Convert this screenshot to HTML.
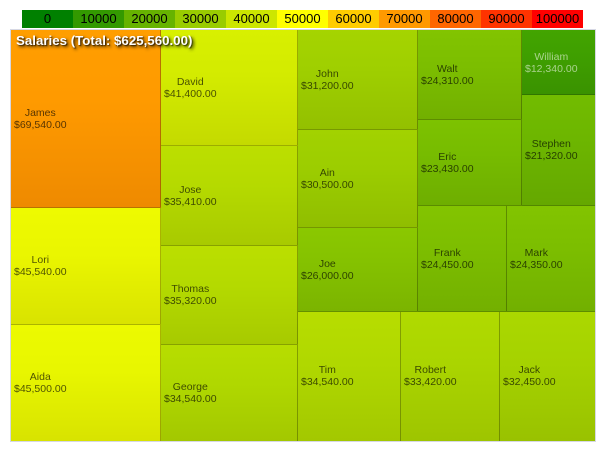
<!DOCTYPE html>
<html>
<head>
<meta charset="utf-8">
<style>
  html, body { margin:0; padding:0; background:#ffffff; }
  body { width:605px; height:451px; position:relative; overflow:hidden; font-family:"Liberation Sans", Arial, sans-serif; }
  .lg { position:absolute; top:10px; height:18px; width:51px; font-size:13px; line-height:18px; text-align:center; color:#000; }
  .chart { position:absolute; left:10px; top:29px; width:586px; height:413px; box-sizing:border-box; border:1px solid #d6d8e4; }
  .c { position:absolute; box-sizing:border-box; overflow:hidden; }
  .br { border-right:1px solid rgba(0,0,0,0.28); }
  .bb { border-bottom:1px solid rgba(0,0,0,0.28); }
  .lab { position:absolute; font-size:10.5px; line-height:12px; text-align:center; color:rgba(0,0,0,0.66); white-space:nowrap; }
  .title { position:absolute; left:16px; top:33px; font-size:13.3px; font-weight:bold; color:#fff; line-height:16px; white-space:nowrap; text-shadow:2px 2px 3px rgba(0,0,0,0.85), 1px 1px 1px rgba(0,0,0,0.6); }
</style>
</head>
<body>
<div class="lg" style="left:22px;background:#008000;">0</div>
<div class="lg" style="left:73px;background:#339900;">10000</div>
<div class="lg" style="left:124px;background:#66b300;">20000</div>
<div class="lg" style="left:175px;background:#99cc00;">30000</div>
<div class="lg" style="left:226px;background:#cce600;">40000</div>
<div class="lg" style="left:277px;background:#ffff00;">50000</div>
<div class="lg" style="left:328px;background:#ffcc00;">60000</div>
<div class="lg" style="left:379px;background:#ff9900;">70000</div>
<div class="lg" style="left:430px;background:#ff6600;">80000</div>
<div class="lg" style="left:481px;background:#ff3300;">90000</div>
<div class="lg" style="left:532px;background:#ff0000;">100000</div>

<div class="chart"></div>

<div class="c br bb" style="left:11px;top:30px;width:150px;height:178px;background:linear-gradient(to bottom,#ff9e00 0%,#ff9a00 40%,#ee8a00 100%);"></div>
<div class="c br bb" style="left:11px;top:208px;width:150px;height:117px;background:linear-gradient(to bottom,#eefa00 0%,#eaf600 40%,#d9e300 100%);"></div>
<div class="c br" style="left:11px;top:325px;width:150px;height:116px;background:linear-gradient(to bottom,#ecfa00 0%,#e8f600 40%,#d8e300 100%);"></div>

<div class="c br bb" style="left:161px;top:30px;width:137px;height:116px;background:linear-gradient(to bottom,#d8f000 0%,#d3eb00 40%,#c4da00 100%);"></div>
<div class="c br bb" style="left:161px;top:146px;width:137px;height:100px;background:linear-gradient(to bottom,#bcdf00 0%,#b5da00 40%,#a8ca00 100%);"></div>
<div class="c br bb" style="left:161px;top:246px;width:137px;height:99px;background:linear-gradient(to bottom,#bbdf00 0%,#b4da00 40%,#a7ca00 100%);"></div>
<div class="c br" style="left:161px;top:345px;width:137px;height:96px;background:linear-gradient(to bottom,#b7dd00 0%,#b0d800 40%,#a3c800 100%);"></div>

<div class="c br bb" style="left:298px;top:30px;width:120px;height:100px;background:linear-gradient(to bottom,#a5d400 0%,#9fcf00 40%,#93c000 100%);"></div>
<div class="c br bb" style="left:298px;top:130px;width:120px;height:98px;background:linear-gradient(to bottom,#a2d200 0%,#9ccd00 40%,#90be00 100%);"></div>
<div class="c br bb" style="left:298px;top:228px;width:120px;height:84px;background:linear-gradient(to bottom,#8bc800 0%,#85c200 40%,#7bb400 100%);"></div>

<div class="c br bb" style="left:418px;top:30px;width:104px;height:90px;background:linear-gradient(to bottom,#82c400 0%,#7cbe00 40%,#72b000 100%);"></div>
<div class="c br bb" style="left:418px;top:120px;width:104px;height:86px;background:linear-gradient(to bottom,#7dc200 0%,#77bc00 40%,#6eae00 100%);"></div>
<div class="c bb" style="left:522px;top:30px;width:73px;height:65px;background:linear-gradient(to bottom,#43a400 0%,#3f9f00 40%,#3a9200 100%);"></div>
<div class="c bb" style="left:522px;top:95px;width:73px;height:111px;background:linear-gradient(to bottom,#72bc00 0%,#6db600 40%,#65a800 100%);"></div>

<div class="c br bb" style="left:418px;top:206px;width:89px;height:106px;background:linear-gradient(to bottom,#83c400 0%,#7dbe00 40%,#73b000 100%);"></div>
<div class="c bb" style="left:507px;top:206px;width:88px;height:106px;background:linear-gradient(to bottom,#82c400 0%,#7cbe00 40%,#72b000 100%);"></div>

<div class="c br" style="left:298px;top:312px;width:103px;height:129px;background:linear-gradient(to bottom,#b7dd00 0%,#b0d800 40%,#a3c800 100%);"></div>
<div class="c br" style="left:401px;top:312px;width:99px;height:129px;background:linear-gradient(to bottom,#b0da00 0%,#aad500 40%,#9ec500 100%);"></div>
<div class="c" style="left:500px;top:312px;width:95px;height:129px;background:linear-gradient(to bottom,#abd800 0%,#a5d200 40%,#99c200 100%);"></div>

<div class="lab" style="left:14px;top:107px;">James<br>$69,540.00</div>
<div class="lab" style="left:14px;top:254px;">Lori<br>$45,540.00</div>
<div class="lab" style="left:14px;top:371px;">Aida<br>$45,500.00</div>

<div class="lab" style="left:164px;top:76px;">David<br>$41,400.00</div>
<div class="lab" style="left:164px;top:184px;">Jose<br>$35,410.00</div>
<div class="lab" style="left:164px;top:283px;">Thomas<br>$35,320.00</div>
<div class="lab" style="left:164px;top:381px;">George<br>$34,540.00</div>

<div class="lab" style="left:301px;top:68px;">John<br>$31,200.00</div>
<div class="lab" style="left:301px;top:167px;">Ain<br>$30,500.00</div>
<div class="lab" style="left:301px;top:258px;">Joe<br>$26,000.00</div>

<div class="lab" style="left:421px;top:63px;">Walt<br>$24,310.00</div>
<div class="lab" style="left:421px;top:151px;">Eric<br>$23,430.00</div>
<div class="lab" style="left:525px;top:51px;color:rgba(255,255,255,0.55);">William<br>$12,340.00</div>
<div class="lab" style="left:525px;top:138px;">Stephen<br>$21,320.00</div>

<div class="lab" style="left:421px;top:247px;">Frank<br>$24,450.00</div>
<div class="lab" style="left:510px;top:247px;">Mark<br>$24,350.00</div>

<div class="lab" style="left:301px;top:364px;">Tim<br>$34,540.00</div>
<div class="lab" style="left:404px;top:364px;">Robert<br>$33,420.00</div>
<div class="lab" style="left:503px;top:364px;">Jack<br>$32,450.00</div>

<div class="title">Salaries (Total: $625,560.00)</div>
</body>
</html>
